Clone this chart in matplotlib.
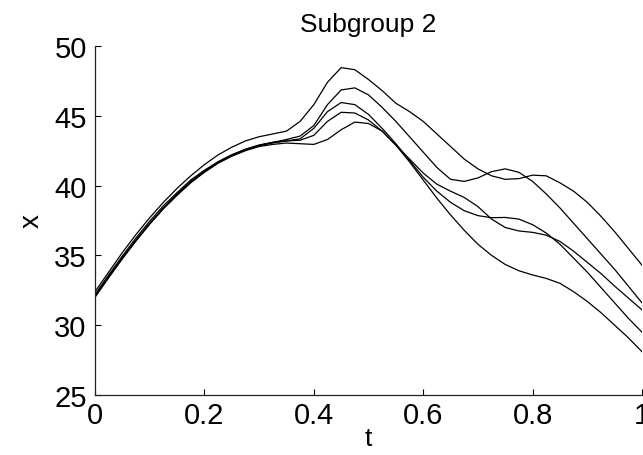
import numpy as np
import matplotlib
matplotlib.use("Agg")
import matplotlib.pyplot as plt

plt.rcParams['font.family'] = ['Liberation Sans', 'DejaVu Sans']

# time grid (41 samples, step 0.025)
t = np.linspace(0, 1, 41)

curve_a = [32.4, 33.8, 35.2, 36.5, 37.7, 38.8, 39.8, 40.7, 41.5, 42.2, 42.75, 43.2, 43.5, 43.7, 43.9,
           44.6, 45.8, 47.4, 48.45, 48.3, 47.6, 46.8, 45.9, 45.3, 44.6, 43.7, 42.8, 41.9, 41.2, 40.7,
           40.45, 40.5, 40.75, 40.7, 40.2, 39.6, 38.8, 37.8, 36.7, 35.5, 34.3]
curve_b = [32.2, 33.6, 34.95, 36.25, 37.45, 38.55, 39.5, 40.4, 41.1, 41.7, 42.2, 42.6, 42.9, 43.1, 43.3,
           43.55, 44.3, 45.8, 46.85, 47.0, 46.5, 45.6, 44.6, 43.5, 42.4, 41.3, 40.45, 40.3, 40.55, 41.0,
           41.2, 40.95, 40.3, 39.4, 38.4, 37.3, 36.2, 35.1, 34.0, 32.8, 31.6]
curve_c = [32.0, 33.4, 34.75, 36.05, 37.25, 38.35, 39.35, 40.25, 41.0, 41.65, 42.15, 42.55, 42.85, 43.05, 43.2,
           43.35, 44.1, 45.3, 45.95, 45.8, 45.1, 44.1, 43.0, 41.8, 40.6, 39.6, 38.8, 38.2, 37.85, 37.7,
           37.72, 37.6, 37.2, 36.6, 35.8, 34.8, 33.8, 32.7, 31.6, 30.5, 29.5]
curve_d = [32.1, 33.5, 34.85, 36.1, 37.3, 38.4, 39.4, 40.3, 41.05, 41.7, 42.2, 42.6, 42.9, 43.1, 43.2,
           43.25, 43.6, 44.6, 45.25, 45.2, 44.7, 43.9, 42.9, 41.9, 40.9, 40.1, 39.6, 39.15, 38.5, 37.6,
           37.0, 36.75, 36.65, 36.45, 36.0, 35.3, 34.5, 33.7, 32.8, 31.95, 31.1]
curve_e = [32.05, 33.45, 34.8, 36.05, 37.25, 38.35, 39.3, 40.2, 40.95, 41.6, 42.1, 42.5, 42.8, 42.95, 43.05,
           43.0, 42.95, 43.3, 44.0, 44.55, 44.45, 43.9, 42.9, 41.7, 40.4, 39.1, 37.9, 36.8, 35.8, 35.0,
           34.35, 33.9, 33.6, 33.35, 33.0, 32.4, 31.7, 30.9, 30.0, 29.1, 28.1]

x_ticks = [0, 0.2, 0.4, 0.6, 0.8, 1]
x_ticklabels = ["0", "0.2", "0.4", "0.6", "0.8", "1"]
y_ticks = [25, 30, 35, 40, 45, 50]
y_ticklabels = ["25", "30", "35", "40", "45", "50"]

fig = plt.figure(figsize=(6.43, 4.56), dpi=100)
ax = fig.add_axes([95 / 643, 60 / 456, 547 / 643, 349 / 456])

for c in (curve_a, curve_b, curve_c, curve_d, curve_e):
    ax.plot(t, c, color='black', linewidth=0.9)

ax.set_xlim(0, 1)
ax.set_ylim(25, 50)
ax.set_xticks(x_ticks)
ax.set_xticklabels(x_ticklabels)
ax.set_yticks(y_ticks)
ax.set_yticklabels(y_ticklabels)

for side in ('top', 'right'):
    ax.spines[side].set_visible(False)
for side in ('left', 'bottom'):
    ax.spines[side].set_linewidth(0.9)
    ax.spines[side].set_color('#222222')

ax.tick_params(direction='in', length=4, width=0.8, labelsize=21, colors='black')
ax.tick_params(axis='x', pad=4)
ax.tick_params(axis='y', pad=6)

ax.set_title("Subgroup 2", fontsize=19, pad=11)
ax.set_xlabel("t", fontsize=19, labelpad=-2)
ax.set_ylabel("x", fontsize=20)
ax.yaxis.set_label_coords(-0.115, 0.5)
ax.yaxis.label.set_va('center')

fig.savefig("out.png", dpi=100)
